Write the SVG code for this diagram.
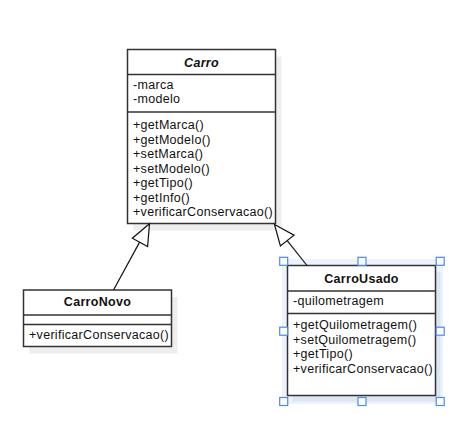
<svg xmlns="http://www.w3.org/2000/svg" width="462" height="422" viewBox="0 0 462 422">
  <style>
    .box { fill: #ffffff; stroke: #333333; stroke-width: 1.5; }
    .div { stroke: #333333; stroke-width: 1.5; }
    .shadow { fill: #eeeeee; }
    .t { font-family: "Liberation Sans", Arial, sans-serif; font-size: 12.5px; letter-spacing: 0.3px; fill: #111111; }
    .h { font-weight: bold; text-anchor: middle; }
    .edge { stroke: #111111; stroke-width: 1.2; fill: none; }
    .head { stroke: #111111; stroke-width: 1.2; fill: #ffffff; stroke-linejoin: miter; }
    .handle { fill: #ffffff; stroke: #4a8ae8; stroke-width: 1.2; }
  </style>
  <rect width="462" height="422" fill="#ffffff"/>

  <g id="selection-bg">
    <rect x="282" y="259" width="161" height="145" fill="#edf3fc"/>
  </g>

  <g id="carro">
    <rect class="shadow" x="133.5" y="56.5" width="148" height="174"/>
    <rect class="box" x="127.5" y="49.5" width="148" height="174"/>
    <line class="div" x1="127.5" y1="74.5" x2="275.5" y2="74.5"/>
    <line class="div" x1="127.5" y1="112" x2="275.5" y2="112"/>
    <text class="t h" x="201.5" y="66.5" font-style="italic">Carro</text>
    <text class="t" x="133" y="88.5">-marca</text>
    <text class="t" x="133" y="103">-modelo</text>
    <text class="t" x="133" y="129">+getMarca()</text>
    <text class="t" x="133" y="143.5">+getModelo()</text>
    <text class="t" x="133" y="158">+setMarca()</text>
    <text class="t" x="133" y="172.5">+setModelo()</text>
    <text class="t" x="133" y="187">+getTipo()</text>
    <text class="t" x="133" y="201.5">+getInfo()</text>
    <text class="t" x="133" y="216">+verificarConservacao()</text>
  </g>

  <g id="carronovo">
    <rect class="shadow" x="29.5" y="297" width="148" height="56.5"/>
    <rect class="box" x="23.5" y="290" width="148" height="56.5"/>
    <line class="div" x1="23.5" y1="315" x2="171.5" y2="315"/>
    <line class="div" x1="23.5" y1="324.5" x2="171.5" y2="324.5"/>
    <text class="t h" x="97.5" y="306">CarroNovo</text>
    <text class="t" x="29" y="338.5">+verificarConservacao()</text>
  </g>

  <g id="carrousado">
    <rect x="292.5" y="271.5" width="148" height="130" fill="#dce5f2"/>
    <rect class="box" x="287.5" y="265.5" width="148" height="130"/>
    <line class="div" x1="287.5" y1="291" x2="435.5" y2="291"/>
    <line class="div" x1="287.5" y1="313.5" x2="435.5" y2="313.5"/>
    <text class="t h" x="361.5" y="282.5">CarroUsado</text>
    <text class="t" x="293" y="305">-quilometragem</text>
    <text class="t" x="293" y="329">+getQuilometragem()</text>
    <text class="t" x="293" y="343.5">+setQuilometragem()</text>
    <text class="t" x="293" y="358">+getTipo()</text>
    <text class="t" x="293" y="372.5">+verificarConservacao()</text>
  </g>

  <g id="connectors">
    <line class="edge" x1="113.5" y1="290" x2="139.9" y2="241.6"/>
    <polygon class="head" points="149.5,223.8 132.3,238.2 147.6,246.6"/>
    <line class="edge" x1="307" y1="265.5" x2="287.2" y2="240.6"/>
    <polygon class="head" points="274.5,224.5 294.0,235.2 280.4,246.0"/>
  </g>

  <g id="selection-handles">
    <rect class="handle" x="279.7" y="257.3" width="8" height="8"/>
    <rect class="handle" x="358" y="257.3" width="8" height="8"/>
    <rect class="handle" x="436.2" y="257.3" width="8" height="8"/>
    <rect class="handle" x="279.7" y="327.2" width="8" height="8"/>
    <rect class="handle" x="436.2" y="327.2" width="8" height="8"/>
    <rect class="handle" x="279.7" y="397.5" width="8" height="8"/>
    <rect class="handle" x="358" y="397.5" width="8" height="8"/>
    <rect class="handle" x="436.2" y="397.5" width="8" height="8"/>
  </g>
</svg>
